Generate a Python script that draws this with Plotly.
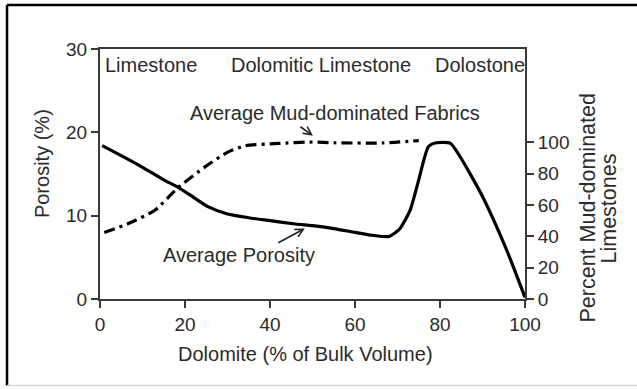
import plotly.graph_objects as go

# Porosity vs. dolomite content (left axis, %)
porosity_x = [0.5, 5, 10, 15, 18.4, 22, 25.5, 30, 35, 40, 46, 50, 55, 60, 64, 68,
              70.5, 73, 75, 77.3, 79.2, 82.4, 84.7, 90, 95.7, 100]
porosity_y = [18.4, 17.2, 15.8, 14.3, 13.4, 12.2, 11.05, 10.2, 9.75, 9.4, 9.0, 8.8,
              8.45, 8.0, 7.65, 7.5, 8.4, 10.7, 14.3, 18.3, 18.75, 18.7, 17.1, 12.3,
              5.85, 0.2]

# Share of mud-dominated fabrics (right axis, %)
mud_x = [1, 6.7, 12.9, 18.4, 24.7, 30.2, 34.1, 42, 50, 55, 66.7, 75]
mud_y = [42.5, 48.2, 56.7, 71.2, 84.4, 94, 97.8, 99.4, 100.3, 99.8, 99.7, 101.2]

x_ticks = [0, 20, 40, 60, 80, 100]
left_ticks = [0, 10, 20, 30]
right_ticks = [0, 20, 40, 60, 80, 100]

FONT = "Liberation Sans, Arial, sans-serif"
TXT = "#2b2b2b"
AX = "#3a3a3a"

fig = go.Figure()
fig.add_trace(go.Scatter(
    x=porosity_x, y=porosity_y, mode="lines",
    line=dict(color="black", width=3.2, shape="spline", smoothing=0.6),
    showlegend=False, hoverinfo="skip"))
fig.add_trace(go.Scatter(
    x=mud_x, y=mud_y, mode="lines", yaxis="y2",
    line=dict(color="black", width=3.2, shape="spline", smoothing=0.6,
              dash="11px,5px,3px,5px"),
    showlegend=False, hoverinfo="skip"))

axis_common = dict(showgrid=False, zeroline=False, showline=True, linecolor=AX,
                   linewidth=2, ticks="outside", ticklen=7, tickwidth=1.5,
                   tickcolor=AX, tickfont=dict(family=FONT, size=19, color=TXT))

fig.update_layout(
    width=637, height=389,
    margin=dict(l=100, r=112, t=49, b=90),
    paper_bgcolor="white", plot_bgcolor="white",
    xaxis=dict(range=[0, 100], tickvals=x_ticks, mirror=True, **axis_common),
    yaxis=dict(range=[0, 30], tickvals=left_ticks, **axis_common),
    yaxis2=dict(range=[0, 159.7], tickvals=right_ticks, overlaying="y",
                side="right", **axis_common),
)

def label(text, x, y, size=20, **kw):
    fig.add_annotation(text=text, x=x, y=y, showarrow=False,
                       xanchor="center", yanchor="middle",
                       font=dict(family=FONT, size=size, color=TXT), **kw)

# Rock-type headings and curve labels
label("Limestone", 11.9, 28.08)
label("Dolomitic Limestone", 52, 28.08)
label("Dolostone", 89.3, 28.08)
label("Average Mud-dominated Fabrics", 55.3, 22.28)
label("Average Porosity", 32.7, 5.25)

# Axis titles
label("Dolomite (% of Bulk Volume)", 0.4828, -0.2187, xref="paper", yref="paper")
label("Porosity (%)", -0.1365, 0.5435, xref="paper", yref="paper", textangle=-90)
label("Percent Mud-dominated", 1.1459, 0.362, xref="paper", yref="paper",
      textangle=-90, size=21.5)
label("Limestones", 1.1976, 0.362, xref="paper", yref="paper", textangle=-90,
      size=21.5)

# Pointer arrows
fig.add_annotation(x=50.1, y=19.6, ax=-14, ay=-10, text="", showarrow=True,
                   arrowhead=5, arrowsize=1, arrowwidth=1.6, arrowcolor="#222")
fig.add_annotation(x=48.2, y=8.46, ax=-28, ay=15, text="", showarrow=True,
                   arrowhead=5, arrowsize=1, arrowwidth=1.6, arrowcolor="#222")

# Outer frame
fig.add_shape(type="line", xref="paper", yref="paper", x0=-0.2188, x1=1.27,
              y0=1.1762, y1=1.1762, line=dict(color="black", width=2.5))
fig.add_shape(type="line", xref="paper", yref="paper", x0=-0.2188, x1=-0.2188,
              y0=1.1762, y1=-0.3456, line=dict(color="black", width=2.5))
fig.add_shape(type="line", xref="paper", yref="paper", x0=-0.2188, x1=1.27,
              y0=-0.3456, y1=-0.3456, line=dict(color="#d8d8d8", width=1.5))

fig.write_html("out.html")
